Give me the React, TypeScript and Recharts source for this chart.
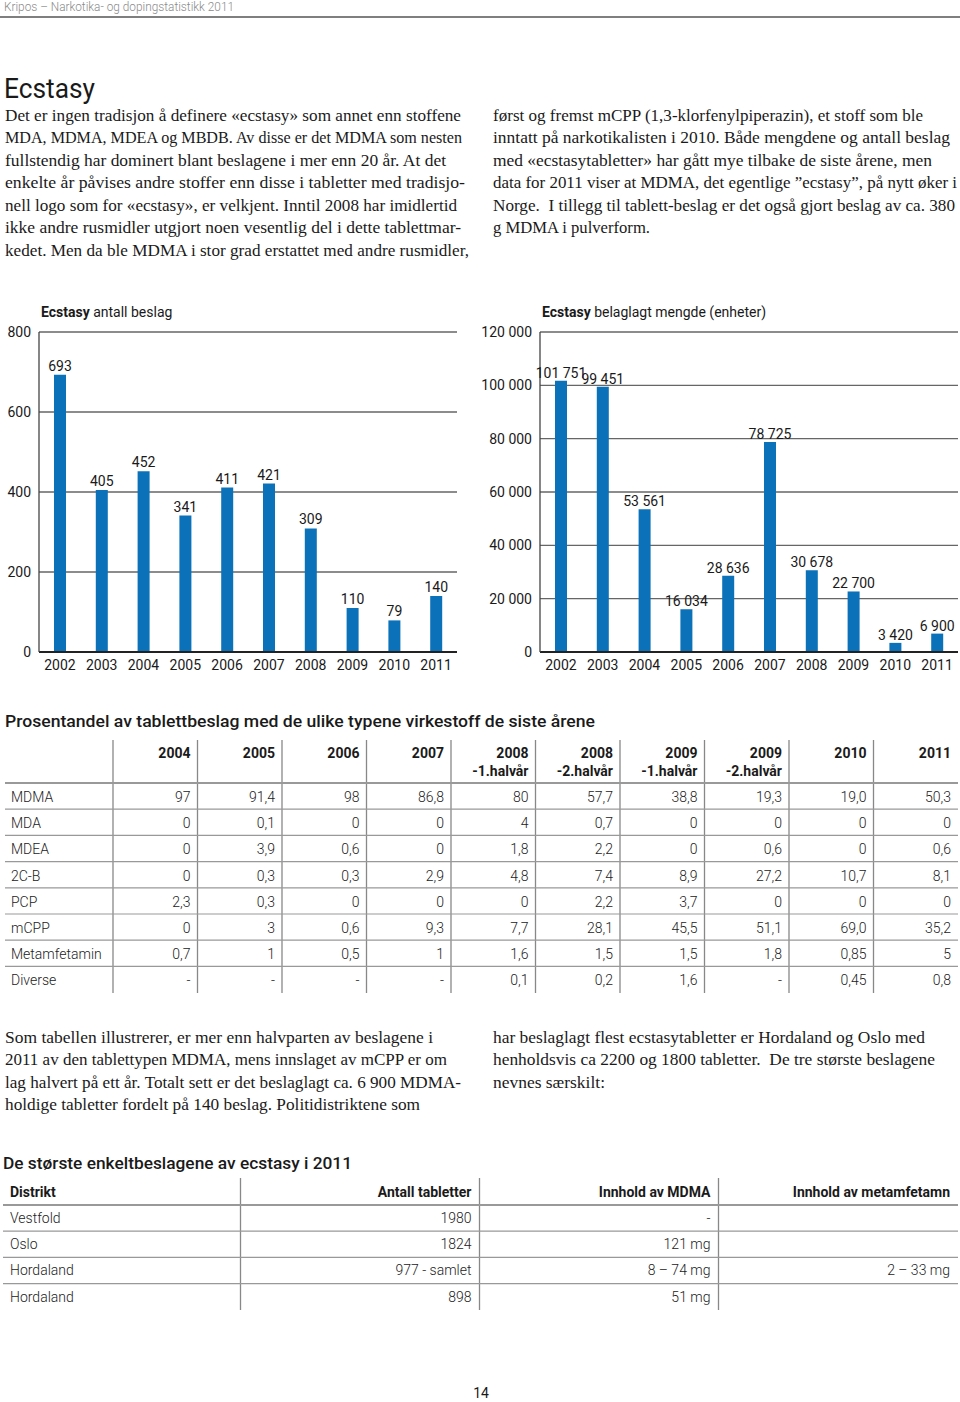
import React from 'react';
import { BarChart, Bar, XAxis, YAxis, CartesianGrid, LabelList } from 'recharts';

// ---------- chart data ----------
const years = ['2002', '2003', '2004', '2005', '2006', '2007', '2008', '2009', '2010', '2011'];
const antallBeslag = [693, 405, 452, 341, 411, 421, 309, 110, 79, 140];
const mengdeEnheter = [101751, 99451, 53561, 16034, 28636, 78725, 30678, 22700, 3420, 6900];
const antallTicks = [0, 200, 400, 600, 800];
const mengdeTicks = [0, 20000, 40000, 60000, 80000, 100000, 120000];

// ---------- table 1 data ----------
const pctHeaderTop = ['2004', '2005', '2006', '2007', '2008', '2008', '2009', '2009', '2010', '2011'];
const pctHeaderBottom = ['', '', '', '', '-1.halvår', '-2.halvår', '-1.halvår', '-2.halvår', '', ''];
const pctRowLabels = ['MDMA', 'MDA', 'MDEA', '2C-B', 'PCP', 'mCPP', 'Metamfetamin', 'Diverse'];
const pctMDMA = ['97', '91,4', '98', '86,8', '80', '57,7', '38,8', '19,3', '19,0', '50,3'];
const pctMDA = ['0', '0,1', '0', '0', '4', '0,7', '0', '0', '0', '0'];
const pctMDEA = ['0', '3,9', '0,6', '0', '1,8', '2,2', '0', '0,6', '0', '0,6'];
const pct2CB = ['0', '0,3', '0,3', '2,9', '4,8', '7,4', '8,9', '27,2', '10,7', '8,1'];
const pctPCP = ['2,3', '0,3', '0', '0', '0', '2,2', '3,7', '0', '0', '0'];
const pctMCPP = ['0', '3', '0,6', '9,3', '7,7', '28,1', '45,5', '51,1', '69,0', '35,2'];
const pctMetamfetamin = ['0,7', '1', '0,5', '1', '1,6', '1,5', '1,5', '1,8', '0,85', '5'];
const pctDiverse = ['-', '-', '-', '-', '0,1', '0,2', '1,6', '-', '0,45', '0,8'];
const pctRows = [pctMDMA, pctMDA, pctMDEA, pct2CB, pctPCP, pctMCPP, pctMetamfetamin, pctDiverse];

// ---------- table 2 data ----------
const seizureHeaders = ['Distrikt', 'Antall tabletter', 'Innhold av MDMA', 'Innhold av metamfetamn'];
const seizureDistrikt = ['Vestfold', 'Oslo', 'Hordaland', 'Hordaland'];
const seizureAntall = ['1980', '1824', '977 - samlet', '898'];
const seizureMDMA = ['-', '121 mg', '8 – 74 mg', '51 mg'];
const seizureMetamfetamin = ['', '', '2 – 33 mg', ''];

// ---------- text ----------
const introLeft = [
  'Det er ingen tradisjon å definere «ecstasy» som annet enn stoffene',
  'MDA, MDMA, MDEA og MBDB. Av disse er det MDMA som nesten',
  'fullstendig har dominert blant beslagene i mer enn 20 år. At det',
  'enkelte år påvises andre stoffer enn disse i tabletter med tradisjo-',
  'nell logo som for «ecstasy», er velkjent. Inntil 2008 har imidlertid',
  'ikke andre rusmidler utgjort noen vesentlig del i dette tablettmar-',
  'kedet. Men da ble MDMA i stor grad erstattet med andre rusmidler,',
];
const introRight = [
  'først og fremst mCPP (1,3-klorfenylpiperazin), et stoff som ble',
  'inntatt på narkotikalisten i 2010. Både mengdene og antall beslag',
  'med «ecstasytabletter» har gått mye tilbake de siste årene, men',
  'data for 2011 viser at MDMA, det egentlige ”ecstasy”, på nytt øker i',
  'Norge.  I tillegg til tablett-beslag er det også gjort beslag av ca. 380',
  'g MDMA i pulverform.',
];
const outroLeft = [
  'Som tabellen illustrerer, er mer enn halvparten av beslagene i',
  '2011 av den tablettypen MDMA, mens innslaget av mCPP er om',
  'lag halvert på ett år. Totalt sett er det beslaglagt ca. 6 900 MDMA-',
  'holdige tabletter fordelt på 140 beslag. Politidistriktene som',
];
const outroRight = [
  'har beslaglagt flest ecstasytabletter er Hordaland og Oslo med',
  'henholdsvis ca 2200 og 1800 tabletter.  De tre største beslagene',
  'nevnes særskilt:',
];

// layout (line end positions for fitted text)
const introLeftEnds = [461, 462, 446, 465, 457, 461, 469];
const introRightEnds = [923, 950, 932, 957, 955, 650];
const outroLeftEnds = [433, 447, 461, 420];
const outroRightEnds = [925, 935, 605];

const BLUE = '#0b72b9';
const INK = '#1a1a1a';
const SANS = 'Roboto, "Noto Sans", sans-serif';
const SERIF = '"Liberation Serif", "DejaVu Serif", serif';

const fmt = (v: any) => String(v).replace(/\B(?=(\d{3})+(?!\d))/g, '\u00a0');

const antallData = years.map((y, i) => ({ year: y, value: antallBeslag[i] }));
const mengdeData = years.map((y, i) => ({ year: y, value: mengdeEnheter[i] }));

function Para({ lines, ends, x, y0 }: { lines: string[]; ends: number[]; x: number; y0: number }) {
  return (
    <g>
      {lines.map((l, i) => (
        <text
          key={i}
          x={x}
          y={y0 + i * 22.45}
          textLength={ends[i] - x}
          lengthAdjust="spacingAndGlyphs"
          style={{ whiteSpace: 'pre' }}
          fontFamily={SERIF}
          fontSize={16.5}
          fill={INK}
        >
          {l}
        </text>
      ))}
    </g>
  );
}

function PctTable() {
  const left = 5;
  const right = 958;
  const firstW = 108;
  const colW = (right - left - firstW) / pctHeaderTop.length;
  const headTop = 740;
  const headLine = 783;
  const rowH = 26.2;
  const bottom = 993;
  const colRight = (j: number) => left + firstW + colW * (j + 1) - 7;
  return (
    <g fontFamily={SANS}>
      <text x={5} y={727} fontSize={17} fontWeight={500} fill={INK} textLength={590} lengthAdjust="spacingAndGlyphs">
        Prosentandel av tablettbeslag med de ulike typene virkestoff de siste årene
      </text>
      {pctHeaderTop.map((_, j) => (
        <line key={'v' + j} x1={left + firstW + colW * j} x2={left + firstW + colW * j} y1={headTop} y2={bottom} stroke="#888" strokeWidth={1.3} />
      ))}
      <line x1={left} x2={right} y1={headLine} y2={headLine} stroke="#999" strokeWidth={2.2} />
      {pctRowLabels.slice(1).map((_, i) => (
        <line key={'h' + i} x1={left} x2={right} y1={headLine + rowH * (i + 1)} y2={headLine + rowH * (i + 1)} stroke="#999" strokeWidth={1.2} />
      ))}
      {pctHeaderTop.map((h, j) => (
        <text key={'ht' + j} x={colRight(j)} y={758} textAnchor="end" fontSize={14} fontWeight={700} fill={INK}>
          {h}
        </text>
      ))}
      {pctHeaderBottom.map((h, j) => (
        <text key={'hb' + j} x={colRight(j)} y={776} textAnchor="end" fontSize={14} fontWeight={700} fill={INK}>
          {h}
        </text>
      ))}
      {pctRowLabels.map((r, i) => (
        <text key={'rl' + i} x={11} y={headLine + rowH * i + 19} fontSize={14} fontWeight={300} fill="#222">
          {r}
        </text>
      ))}
      {pctRows.map((row, i) =>
        row.map((v, j) => (
          <text key={'c' + i + '-' + j} x={colRight(j)} y={headLine + rowH * i + 19} textAnchor="end" fontSize={14} fontWeight={300} fill="#222">
            {v}
          </text>
        ))
      )}
    </g>
  );
}

function SeizureTable() {
  const edges = [3, 240.5, 479.5, 718.5, 958];
  const headLine = 1205;
  const rowH = 26.2;
  const cols = [seizureDistrikt, seizureAntall, seizureMDMA, seizureMetamfetamin];
  return (
    <g fontFamily={SANS}>
      <text x={3} y={1169} fontSize={17} fontWeight={500} fill={INK} textLength={349} lengthAdjust="spacingAndGlyphs">
        De største enkeltbeslagene av ecstasy i 2011
      </text>
      {edges.slice(1, 4).map((x, j) => (
        <line key={'v' + j} x1={x} x2={x} y1={1178} y2={1310} stroke="#888" strokeWidth={1.3} />
      ))}
      <line x1={3} x2={958} y1={headLine} y2={headLine} stroke="#999" strokeWidth={2.2} />
      {[1, 2, 3].map((k) => (
        <line key={'h' + k} x1={3} x2={958} y1={headLine + rowH * k} y2={headLine + rowH * k} stroke="#999" strokeWidth={1.2} />
      ))}
      {seizureHeaders.map((h, j) => (
        <text
          key={'hd' + j}
          x={j === 0 ? 10 : edges[j + 1] - 8}
          y={1197}
          textAnchor={j === 0 ? 'start' : 'end'}
          fontSize={14}
          fontWeight={700}
          fill={INK}
        >
          {h}
        </text>
      ))}
      {cols.map((col, j) =>
        col.map((v, i) => (
          <text
            key={'c' + j + '-' + i}
            x={j === 0 ? 10 : edges[j + 1] - 8}
            y={headLine + rowH * i + 18}
            textAnchor={j === 0 ? 'start' : 'end'}
            fontSize={14}
            fontWeight={300}
            fill="#222"
          >
            {v}
          </text>
        ))
      )}
    </g>
  );
}

const tickStyle = { fontSize: 14, fill: INK, fontFamily: SANS };

function AntallChart() {
  return (
    <BarChart width={470} height={385} data={antallData} margin={{ top: 32, right: 13, bottom: 0, left: 0 }}>
      <CartesianGrid vertical={false} stroke="#666" strokeWidth={1.3} />
      <XAxis dataKey="year" tickLine={false} axisLine={{ stroke: '#222', strokeWidth: 2 }} tick={tickStyle} interval={0} height={33} />
      <YAxis
        domain={[0, 800]}
        ticks={antallTicks}
        width={39}
        tickLine={false}
        axisLine={{ stroke: '#444', strokeWidth: 1.3 }}
        tick={tickStyle}
        interval={0}
      />
      <Bar dataKey="value" fill={BLUE} barSize={12} isAnimationActive={false}>
        <LabelList dataKey="value" position="top" offset={4} style={{ fontSize: 14, fill: INK, fontFamily: SANS }} />
      </Bar>
    </BarChart>
  );
}

function MengdeChart() {
  return (
    <BarChart width={480} height={385} data={mengdeData} margin={{ top: 32, right: 2, bottom: 0, left: 0 }}>
      <CartesianGrid vertical={false} stroke="#666" strokeWidth={1.3} />
      <XAxis dataKey="year" tickLine={false} axisLine={{ stroke: '#222', strokeWidth: 2 }} tick={tickStyle} interval={0} height={33} />
      <YAxis
        domain={[0, 120000]}
        ticks={mengdeTicks}
        width={60}
        tickLine={false}
        axisLine={{ stroke: '#444', strokeWidth: 1.3 }}
        tick={tickStyle}
        tickFormatter={fmt}
        interval={0}
      />
      <Bar dataKey="value" fill={BLUE} barSize={12} isAnimationActive={false}>
        <LabelList dataKey="value" position="top" offset={3} formatter={fmt} style={{ fontSize: 14, fill: INK, fontFamily: SANS }} />
      </Bar>
    </BarChart>
  );
}

export default function App() {
  return (
    <div style={{ position: 'absolute', left: 0, top: 0, width: 960, height: 1402, background: '#fff', overflow: 'hidden' }}>
      <svg width={960} height={1402} style={{ position: 'absolute', left: 0, top: 0 }}>
        <text x={4} y={11} fontFamily={SANS} fontSize={12.5} fontWeight={300} fill="#8a8a8a" textLength={230} lengthAdjust="spacingAndGlyphs">
          Kripos – Narkotika- og dopingstatistikk 2011
        </text>
        <line x1={0} x2={960} y1={17} y2={17} stroke="#555" strokeWidth={1.5} />
        <text x={4} y={98} fontFamily={SANS} fontSize={27} fill={INK} textLength={91} lengthAdjust="spacingAndGlyphs">
          Ecstasy
        </text>
        <Para lines={introLeft} ends={introLeftEnds} x={5} y0={121} />
        <Para lines={introRight} ends={introRightEnds} x={493} y0={121} />
        <text x={41} y={317} fontFamily={SANS} fontSize={14} fill={INK}>
          <tspan fontWeight={700}>Ecstasy</tspan> antall beslag
        </text>
        <text x={542} y={317} fontFamily={SANS} fontSize={14} fill={INK}>
          <tspan fontWeight={700}>Ecstasy</tspan> belaglagt mengde (enheter)
        </text>
        <PctTable />
        <Para lines={outroLeft} ends={outroLeftEnds} x={5} y0={1043} />
        <Para lines={outroRight} ends={outroRightEnds} x={493} y0={1043} />
        <SeizureTable />
        <text x={481} y={1398} textAnchor="middle" fontFamily={SANS} fontSize={14} fill={INK}>
          14
        </text>
      </svg>
      <div style={{ position: 'absolute', left: 0, top: 300 }}>
        <AntallChart />
      </div>
      <div style={{ position: 'absolute', left: 480, top: 300 }}>
        <MengdeChart />
      </div>
    </div>
  );
}
